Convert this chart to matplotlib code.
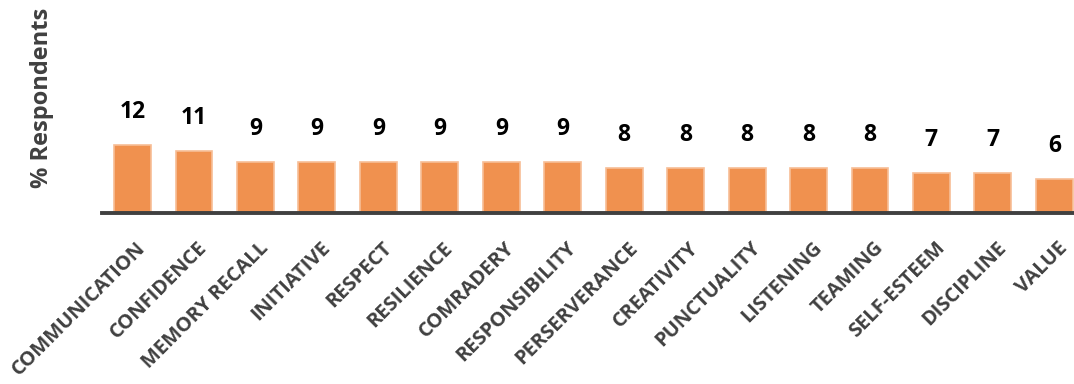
import matplotlib.pyplot as plt
import matplotlib.transforms as mtransforms

skills = ['COMMUNICATION', 'CONFIDENCE', 'MEMORY RECALL', 'INITIATIVE', 'RESPECT',
          'RESILIENCE', 'COMRADERY', 'RESPONSIBILITY', 'PERSERVERANCE', 'CREATIVITY',
          'PUNCTUALITY', 'LISTENING', 'TEAMING', 'SELF-ESTEEM', 'DISCIPLINE', 'VALUE']
percentRespondents = [12, 11, 9, 9, 9, 9, 9, 9, 8, 8, 8, 8, 8, 7, 7, 6]

barColor = '#F0914F'
edgeColor = '#F7BE96'
textGray = '#404040'

plt.rcParams['font.family'] = ['Open Sans', 'DejaVu Sans']

fig = plt.figure(figsize=(10.74, 3.84), dpi=100)
ax = fig.add_axes([0.0948, 0.4453, 0.9155, 0.2214])

xPos = list(range(len(skills)))
bars = ax.bar(xPos, percentRespondents, width=0.6, color=barColor,
              edgecolor=edgeColor, linewidth=1.2)

# value labels sit a fixed distance above each bar
for x, v in zip(xPos, percentRespondents):
    ax.annotate(str(v), (x, v), xytext=(0, 15), textcoords='offset points',
                ha='center', va='bottom', fontsize=16.5, fontweight='bold',
                color='black', annotation_clip=False)

ax.set_xlim(-0.5, len(skills) - 0.5)
ax.set_ylim(0, 15)
ax.set_yticks([])
ax.set_xticks(xPos)
ax.set_xticklabels(skills, rotation=45, ha='right', va='center',
                   rotation_mode='anchor', fontsize=14.5, fontweight='bold',
                   color=textGray)
ax.tick_params(axis='x', length=0, pad=23)

# nudge the slanted names to the right so they end just past each bar
shift = mtransforms.ScaledTranslation(7.5 / 72, 0, fig.dpi_scale_trans)
for lbl in ax.get_xticklabels():
    lbl.set_transform(lbl.get_transform() + shift)

for side in ['top', 'right', 'left']:
    ax.spines[side].set_visible(False)
ax.spines['bottom'].set_color(textGray)
ax.spines['bottom'].set_linewidth(2.8)

fig.text(0.039, 0.745, '% Respondents', rotation=90, ha='center', va='center',
         fontsize=17, fontweight='bold', color=textGray)

fig.savefig('out.png', dpi=100)
